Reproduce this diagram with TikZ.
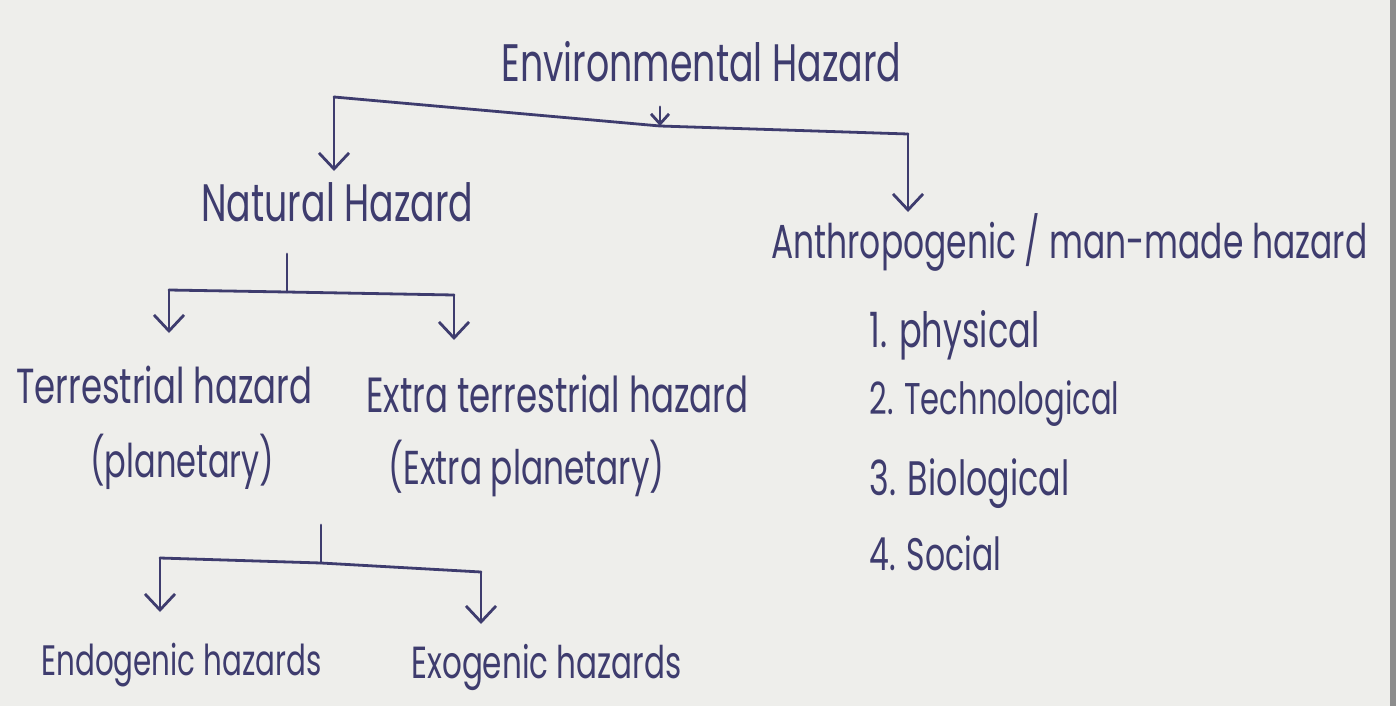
\documentclass[tikz,border=0pt]{standalone}
\usepackage{fontspec}
\setmainfont{Poppins}
\usetikzlibrary{arrows.meta}
\definecolor{ink}{HTML}{3E3C6E}
\definecolor{paper}{HTML}{EEEEEB}
\newcommand{\fitw}[2]{\scalebox{1}[1.45]{\resizebox{#1}{!}{#2}}}
\begin{document}
\begin{tikzpicture}[x=0.5pt,y=-0.5pt,
  line width=1.4pt, line cap=round, line join=round, draw=ink,
  lab/.style={inner sep=0pt, anchor=base west, text=ink},
  arr/.style={-{Straight Barb[length=8pt,width=15pt]}},
  smallarr/.style={-{Straight Barb[length=5pt,width=9pt]}}]
\fill[paper] (0,0) rectangle (1396,706);
\fill[black!45] (1390,0) rectangle (1396,706);
\useasboundingbox (0,0) rectangle (1396,706);

% nodes
\node[lab] (env)   at (500,81)  {\fitw{200pt}{Environmental Hazard}};
\node[lab] (nat)   at (200,221) {\fitw{136pt}{Natural Hazard}};
\node[lab] (anth)  at (770,258) {\fitw{298pt}{Anthropogenic / man-made hazard}};
\node[lab] (ter)   at (15,403)  {\fitw{148pt}{Terrestrial hazard}};
\node[lab] (terp)  at (89,477)  {\fitw{92pt}{(planetary)}};
\node[lab] (ext)   at (365,412) {\fitw{191pt}{Extra terrestrial hazard}};
\node[lab] (extp)  at (387,484) {\fitw{138pt}{(Extra planetary)}};
\node[lab] (endo)  at (40,675)  {\fitw{140pt}{Endogenic hazards}};
\node[lab] (exo)   at (410,678) {\fitw{135pt}{Exogenic hazards}};
\node[lab] (l1)    at (868,347) {\fitw{85pt}{1. physical}};
\node[lab] (l2)    at (868,414) {\fitw{125pt}{2. Technological}};
\node[lab] (l3)    at (868,495) {\fitw{100pt}{3. Biological}};
\node[lab] (l4)    at (868,570) {\fitw{66pt}{4. Social}};

% junction coordinates
\coordinate (j0) at (660,126);
\coordinate (L0) at (334,97);
\coordinate (R0) at (908,134);
\coordinate (La) at (334,171);
\coordinate (Ra) at (908,212);

\coordinate (n0) at (287,254);
\coordinate (j1) at (287,292);
\coordinate (L1) at (169,290);
\coordinate (R1) at (454,295);
\coordinate (L1a) at (169,333);
\coordinate (R1a) at (454,340);

\coordinate (t0) at (321,525);
\coordinate (j2) at (321,563);
\coordinate (L2) at (160,558);
\coordinate (R2) at (481,572);
\coordinate (L2a) at (160,612);
\coordinate (R2a) at (481,624);

% Environmental hazard
\draw[smallarr, shorten <=12pt] (env.south -| j0) -- (j0);
\draw (L0) -- (j0) -- (R0);
\draw[arr] (L0) -- (La);
\draw[arr] (R0) -- (Ra);

% Natural hazard
\draw (n0) -- (j1);
\draw (L1) -- (j1) -- (R1);
\draw[arr] (L1) -- (L1a);
\draw[arr] (R1) -- (R1a);

% Terrestrial hazard
\draw (t0) -- (j2);
\draw (L2) -- (j2) -- (R2);
\draw[arr] (L2) -- (L2a);
\draw[arr] (R2) -- (R2a);
\end{tikzpicture}
\end{document}
